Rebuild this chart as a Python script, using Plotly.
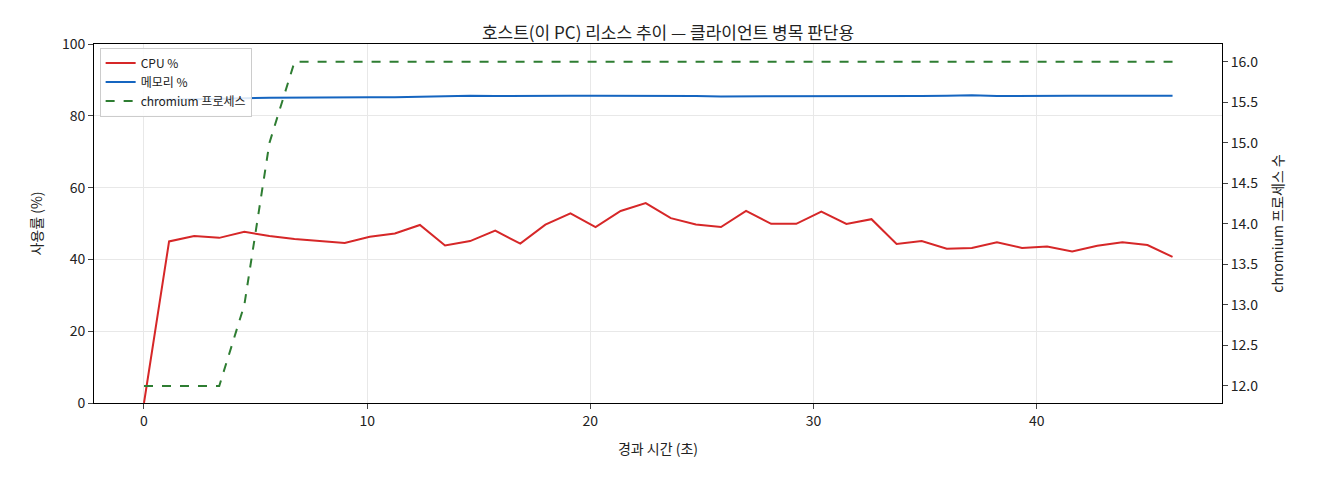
import plotly.graph_objects as go

t = [round(i * 1.124, 3) for i in range(42)]
cpu = [0, 45, 46.5, 46, 47.7, 46.5, 45.7, 45.1, 44.6, 46.3, 47.2, 49.6, 43.9, 45.1,
       48, 44.4, 49.7, 52.8, 49, 53.5, 55.7, 51.5, 49.7, 49, 53.5, 49.9, 49.9, 53.3,
       49.9, 51.2, 44.3, 45.1, 43, 43.2, 44.8, 43.2, 43.6, 42.2, 43.8, 44.8, 44, 40.7]
mem = [84.3, 84.5, 84.6, 84.7, 84.9, 85.0, 85.1, 85.1, 85.2, 85.2, 85.2, 85.4, 85.6, 85.6,
       85.5, 85.6, 85.6, 85.6, 85.6, 85.6, 85.6, 85.7, 85.5, 85.4, 85.4, 85.4, 85.3, 85.5,
       85.5, 85.5, 85.5, 85.5, 85.6, 85.7, 85.5, 85.6, 85.6, 85.6, 85.6, 85.6, 85.6, 85.6]
procs = [12, 12, 12, 12, 13, 15, 16] + [16] * 35

font = "Noto Sans CJK KR"
fig = go.Figure()
fig.add_trace(go.Scatter(x=t, y=cpu, mode="lines", name="CPU %", line=dict(color="#d62728", width=2)))
fig.add_trace(go.Scatter(x=t, y=mem, mode="lines", name="메모리 %", line=dict(color="#1565c0", width=2)))
fig.add_trace(go.Scatter(x=t, y=procs, mode="lines", name="chromium 프로세스", yaxis="y2",
                         line=dict(color="#2e7d32", width=2, dash="dash")))

fig.update_layout(
    width=1320, height=480, plot_bgcolor="white", paper_bgcolor="white",
    font=dict(family=font, size=14, color="#222"),
    title=dict(text="호스트(이 PC) 리소스 추이 — 클라이언트 병목 판단용", x=0.5, y=0.96, font=dict(size=17)),
    margin=dict(l=86, r=106, t=36, b=85),
    xaxis=dict(title=dict(text="경과 시간 (초)", font=dict(size=14)), range=[-2.24, 48.3],
               tickvals=[0, 10, 20, 30, 40], showgrid=True, gridcolor="#e8e8e8",
               showline=True, linecolor="black", mirror=True, ticks="outside", zeroline=False),
    yaxis=dict(title=dict(text="사용률 (%)", font=dict(size=14)), range=[0, 100], dtick=20, showgrid=True,
               gridcolor="#e8e8e8", showline=True, linecolor="black", ticks="outside", zeroline=False),
    yaxis2=dict(title=dict(text="chromium 프로세스 수", font=dict(size=14)), overlaying="y", side="right",
                range=[11.79, 16.22], dtick=0.5, tickformat=".1f", showgrid=False,
                showline=True, linecolor="black", ticks="outside", zeroline=False),
    legend=dict(x=0.005, y=0.99, xanchor="left", yanchor="top", bgcolor="rgba(255,255,255,0.85)",
                bordercolor="#ccc", borderwidth=1, font=dict(size=12)),
)
fig.write_html("out.html")
